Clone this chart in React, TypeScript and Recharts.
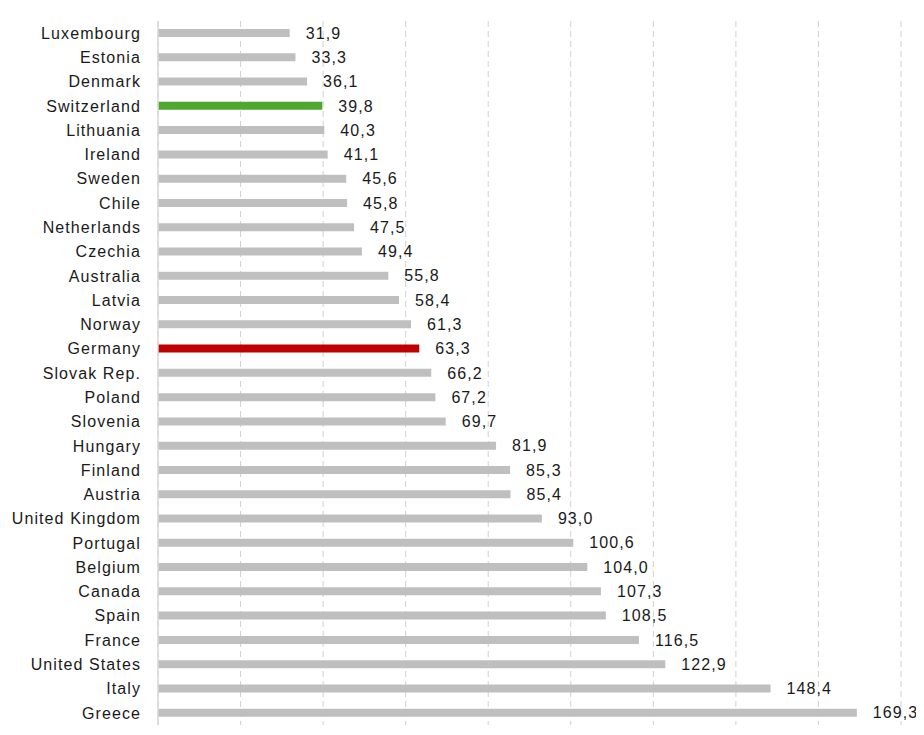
import React from "react";
import { BarChart, Bar, XAxis, YAxis, CartesianGrid, LabelList, Cell } from "recharts";

const countries = [
  "Luxembourg", "Estonia", "Denmark", "Switzerland", "Lithuania", "Ireland", "Sweden", "Chile",
  "Netherlands", "Czechia", "Australia", "Latvia", "Norway", "Germany", "Slovak Rep.", "Poland",
  "Slovenia", "Hungary", "Finland", "Austria", "United Kingdom", "Portugal", "Belgium", "Canada",
  "Spain", "France", "United States", "Italy", "Greece",
];
const values = [
  31.9, 33.3, 36.1, 39.8, 40.3, 41.1, 45.6, 45.8, 47.5, 49.4, 55.8, 58.4, 61.3, 63.3, 66.2, 67.2,
  69.7, 81.9, 85.3, 85.4, 93.0, 100.6, 104.0, 107.3, 108.5, 116.5, 122.9, 148.4, 169.3,
];
const xTicks = [0, 20, 40, 60, 80, 100, 120, 140, 160, 180];
const highlight: Record<string, string> = { Switzerland: "#4ea72e", Germany: "#c00000" };

const data = countries.map((c, i) => ({ country: c, value: values[i] }));
const FONT = "'Liberation Sans', Arial, sans-serif";

export default function App() {
  return (
    <div style={{ margin: -8, width: 924, height: 735, background: "#fff" }}>
      <BarChart
        width={924}
        height={735}
        data={data}
        layout="vertical"
        margin={{ top: 21, right: 23, bottom: 10, left: 0 }}
        barCategoryGap={0}
      >
        <CartesianGrid horizontal={false} vertical={true} stroke="#d0d0d0" strokeDasharray="6 4" />
        <XAxis type="number" domain={[0, 180]} ticks={xTicks} hide />
        <YAxis
          type="category"
          dataKey="country"
          width={158}
          tickSize={0}
          tickMargin={17}
          tickLine={false}
          axisLine={{ stroke: "#d9d9d9", strokeWidth: 1.5 }}
          interval={0}
          tick={{ fill: "#1a1a1a", fontSize: 16, fontFamily: FONT, letterSpacing: 1.1 }}
        />
        <Bar dataKey="value" barSize={8} fill="#bfbfbf" isAnimationActive={false}>
          {data.map((d) => (
            <Cell key={d.country} fill={highlight[d.country] || "#bfbfbf"} />
          ))}
          <LabelList
            dataKey="value"
            position="right"
            offset={16}
            formatter={(v: any) => Number(v).toFixed(1).replace(".", ",")}
            style={{ fill: "#1a1a1a", fontSize: 16, fontFamily: FONT, letterSpacing: 1.1 }}
          />
        </Bar>
      </BarChart>
    </div>
  );
}
